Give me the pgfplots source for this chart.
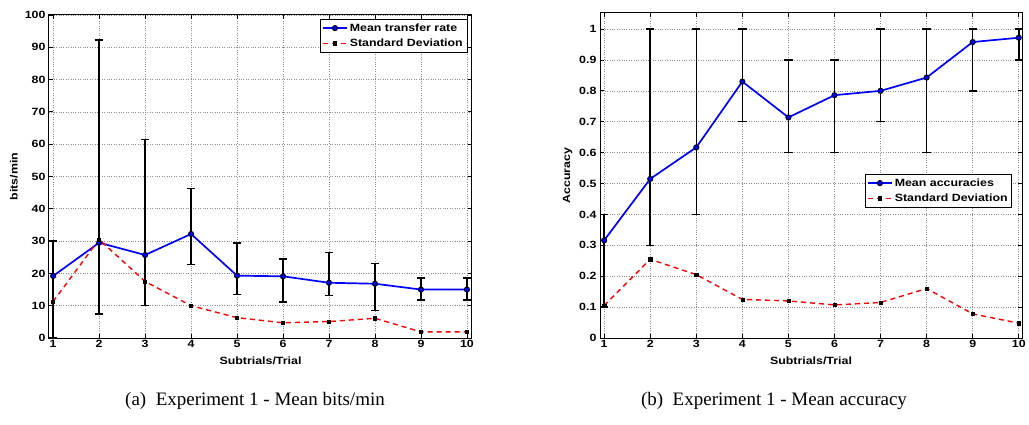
\documentclass[border=0pt]{standalone}
\usepackage{pgfplots}
\pgfplotsset{compat=1.18}
\usepackage{fontspec}
\newfontfamily\plotfont[FakeStretch=1.18]{Liberation Sans}
\newfontfamily\capfont{Liberation Serif}
\newcommand\pf{\plotfont\bfseries\fontsize{10.5}{12}\selectfont}
\pgfplotsset{
  mystyle/.style={
    scale only axis, anchor=south west,
    xtick={1,2,3,4,5,6,7,8,9,10},
    grid=major, major grid style={dotted, gray!90, line width=0.7pt},
    tick align=inside, major tick length=4pt,
    every tick/.style={black, line width=0.8pt},
    axis line style={line width=1pt},
    tick label style={font=\pf},
    /pgf/number format/assume math mode=true,
    label style={font=\pf},
    xlabel={Subtrials/Trial},
    xlabel style={at={(axis description cs:0.5,0)}, anchor=north, yshift=-15pt},
    xticklabel style={yshift=1pt},
    legend style={font=\pf, draw=black, fill=white, inner xsep=2pt, inner ysep=2.5pt, row sep=2pt},
    legend cell align=left,
    legend image code/.code={\draw[mark repeat=2,mark phase=2,##1] plot coordinates {(0pt,0pt) (12pt,0pt) (24pt,0pt)};},
  },
  meanline/.style={blue, line width=1.7pt, mark=*, mark size=2.6pt,
    mark options={solid, fill=blue, draw=black, line width=0.9pt}},
  sdline/.style={red, line width=1.4pt, dash pattern=on 5pt off 4pt, mark=square*, mark size=1.6pt,
    mark options={solid, fill=black, draw=black, line width=0.5pt}},
  ebars/.style={error bars/.cd, y dir=both, y explicit,
    error bar style={black, line width=1.5pt, solid},
    error mark options={rotate=90, mark size=4.2pt, black, line width=1.5pt}},
}
\begin{document}
\begin{tikzpicture}
\path[use as bounding box] (0,0) rectangle (1029pt,424pt);
\begin{axis}[mystyle, at={(49pt,86pt)}, width=423pt, height=323pt,
  xmin=0.91, xmax=10.11, ymin=0, ymax=100,
  ytick={0,10,20,30,40,50,60,70,80,90,100},
  ylabel={bits/min},
  legend style={at={(0.988,0.988)}, anchor=north east}]
\addplot[meanline, ebars] coordinates {
 (1,19.2) += (0,10.8) -= (0,19.2)
 (2,29.5) += (0,62.8) -= (0,22.0)
 (3,25.7) += (0,35.8) -= (0,15.7)
 (4,32.2) += (0,14.1) -= (0,9.4)
 (5,19.3) += (0,10.1) -= (0,5.8)
 (6,19.1) += (0,5.3) -= (0,7.9)
 (7,17.1) += (0,9.3) -= (0,4.0)
 (8,16.8) += (0,6.3) -= (0,8.3)
 (9,15.0) += (0,3.5) -= (0,3.3)
 (10,15.0) += (0,3.5) -= (0,3.3)
};
\addlegendentry{Mean transfer rate}
\addplot[sdline] coordinates {
 (1,11.3) (2,30.5) (3,17.5) (4,10.0) (5,6.3) (6,4.7) (7,5.1) (8,6.1) (9,1.9) (10,1.9)
};
\addlegendentry{Standard Deviation}
\end{axis}
\begin{axis}[mystyle, at={(600pt,86pt)}, width=422pt, height=325pt,
  xmin=0.91, xmax=10.07, ymin=0, ymax=1.052,
  ytick={0,0.1,0.2,0.3,0.4,0.5,0.6,0.7,0.8,0.9,1},
  yticklabels={0,0.1,0.2,0.3,0.4,0.5,0.6,0.7,0.8,0.9,1},
  ylabel={Accuracy},
  legend style={at={(0.976,0.505)}, anchor=north east}]
\addplot[meanline, ebars] coordinates {
 (1,0.316) += (0,0.084) -= (0,0.216)
 (2,0.515) += (0,0.485) -= (0,0.215)
 (3,0.617) += (0,0.383) -= (0,0.217)
 (4,0.830) += (0,0.170) -= (0,0.130)
 (5,0.714) += (0,0.186) -= (0,0.114)
 (6,0.786) += (0,0.114) -= (0,0.186)
 (7,0.800) += (0,0.200) -= (0,0.100)
 (8,0.843) += (0,0.157) -= (0,0.243)
 (9,0.958) += (0,0.042) -= (0,0.158)
 (10,0.972) += (0,0.028) -= (0,0.072)
};
\addlegendentry{Mean accuracies}
\addplot[sdline] coordinates {
 (1,0.105) (2,0.255) (3,0.205) (4,0.125) (5,0.120) (6,0.107) (7,0.115) (8,0.160) (9,0.078) (10,0.048)
};
\addlegendentry{Standard Deviation}
\end{axis}
\node[font=\capfont\fontsize{19}{23}\selectfont, anchor=base] at (255pt,19pt) {(a)\enspace Experiment 1 - Mean bits/min};
\node[font=\capfont\fontsize{19}{23}\selectfont, anchor=base] at (774pt,19pt) {(b)\enspace Experiment 1 - Mean accuracy};
\end{tikzpicture}
\end{document}
